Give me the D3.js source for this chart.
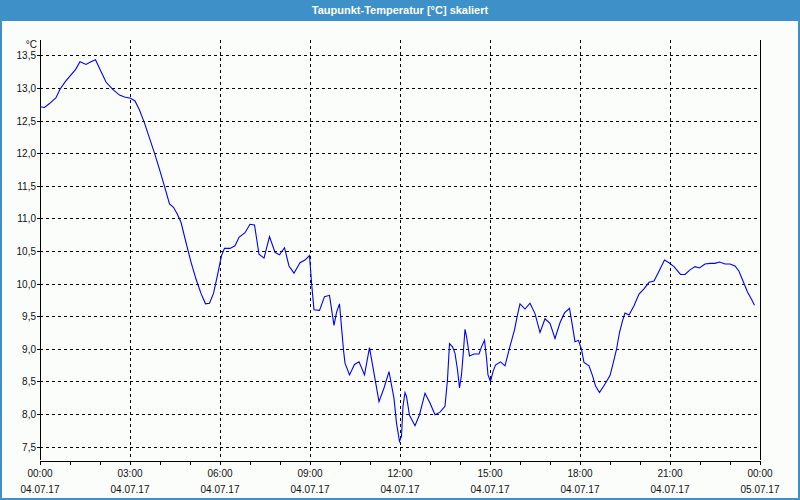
<!DOCTYPE html>
<html>
<head>
<meta charset="utf-8">
<script src="https://cdn.jsdelivr.net/npm/d3@7"></script>
<style>
  html, body { margin: 0; padding: 0; background: #fff; }
  svg { display: block; }
  text { font-family: "Liberation Sans", Arial, sans-serif; }
</style>
</head>
<body>
<svg id="chart" width="800" height="500"></svg>
<script>
// ---- data ----
const title = "Taupunkt-Temperatur [°C] skaliert";
const unitLabel = "°C";
const times = [
  "00:00","00:09","00:19","00:32","00:40","00:51","01:02","01:11","01:20","01:32","01:42","01:51",
  "02:02","02:12","02:25","02:39","02:49","03:01","03:10","03:19","03:29","03:39","03:49","03:59",
  "04:09","04:19","04:27","04:35","04:42","04:52","05:02","05:12","05:22","05:31","05:39","05:47","05:55",
  "06:03","06:09","06:20","06:30","06:38","06:50","07:00","07:09","07:18","07:28","07:39","07:50","07:59",
  "08:09","08:18","08:28","08:40","08:50","08:59","09:03","09:08","09:19","09:29","09:39","09:48","09:53","09:59",
  "10:07","10:10","10:19","10:29","10:38","10:49","10:59","11:18","11:28","11:38","11:48",
  "11:53","11:59","12:03","12:06","12:10","12:13","12:19","12:30","12:39","12:50","13:00","13:10","13:20","13:30",
  "13:35","13:39","13:45","13:50","13:55","13:59","14:03","14:07","14:10","14:13","14:19","14:28","14:38","14:43",
  "14:49","14:53","14:56","15:01","15:06","15:11","15:21","15:30","15:39","15:49","15:55","16:00","16:10","16:20",
  "16:30","16:40","16:50","17:00","17:10","17:20","17:29","17:39","17:43","17:50","17:57",
  "18:03","18:08","18:18","18:25","18:31","18:39","18:50","19:00","19:06","19:13","19:19","19:25","19:30","19:38",
  "19:48","19:58","20:08","20:18","20:28","20:38","20:49","20:58","21:08","21:21","21:30","21:40","21:50","21:59",
  "22:10","22:20","22:30","22:39","22:50","23:00","23:10","23:18","23:27","23:35","23:43","23:49"
];
const values = [
  12.71,12.70,12.76,12.85,12.98,13.10,13.20,13.28,13.40,13.36,13.40,13.43,
  13.25,13.09,12.98,12.89,12.86,12.84,12.80,12.66,12.46,12.23,12.00,11.75,
  11.49,11.22,11.17,11.06,10.94,10.63,10.33,10.07,9.85,9.69,9.70,9.85,10.13,
  10.43,10.54,10.54,10.58,10.71,10.78,10.91,10.90,10.45,10.39,10.72,10.48,10.44,
  10.55,10.27,10.16,10.32,10.36,10.43,10.02,9.60,9.59,9.80,9.82,9.36,9.56,9.69,
  8.98,8.78,8.60,8.76,8.80,8.60,9.02,8.19,8.40,8.65,8.24,
  7.86,7.58,7.66,8.12,8.33,8.27,7.98,7.82,7.99,8.32,8.17,7.99,8.03,8.12,
  8.53,9.08,9.03,8.93,8.68,8.40,8.60,8.98,9.30,9.19,8.89,8.92,8.92,9.03,
  9.13,8.86,8.60,8.50,8.65,8.75,8.80,8.74,9.01,9.29,9.52,9.69,9.61,9.70,
  9.54,9.25,9.46,9.39,9.16,9.40,9.55,9.62,9.44,9.11,9.13,
  8.99,8.79,8.74,8.59,8.43,8.33,8.46,8.59,8.77,8.99,9.25,9.43,9.55,9.52,
  9.66,9.84,9.92,10.02,10.04,10.19,10.36,10.32,10.26,10.14,10.14,10.21,10.26,10.24,
  10.30,10.31,10.31,10.33,10.30,10.30,10.27,10.19,10.02,9.87,9.76,9.67
];
const yTicks = [7.5, 8.0, 8.5, 9.0, 9.5, 10.0, 10.5, 11.0, 11.5, 12.0, 12.5, 13.0, 13.5];
const xTickTimes = ["2017-07-04 00:00","2017-07-04 03:00","2017-07-04 06:00","2017-07-04 09:00",
  "2017-07-04 12:00","2017-07-04 15:00","2017-07-04 18:00","2017-07-04 21:00","2017-07-05 00:00"];
const dayDate = "2017-07-04";

// ---- build ----
const parseFull = d3.timeParse("%Y-%m-%d %H:%M");
const data = times.map((t, i) => ({ t: parseFull(dayDate + " " + t), v: values[i] }));
const xTicks = xTickTimes.map(parseFull);

const svg = d3.select("#chart");
const W = 800, H = 500;
const plot = { left: 40, right: 760, top: 40, bottom: 460 };

// frame
svg.append("rect").attr("x", 0).attr("y", 0).attr("width", W).attr("height", H).attr("fill", "#3d91c8");
svg.append("rect").attr("x", 2).attr("y", 21).attr("width", W - 4).attr("height", H - 23).attr("fill", "#fbfdfb");
svg.append("text").attr("x", W / 2).attr("y", 14).attr("text-anchor", "middle")
  .attr("fill", "#ffffff").attr("font-size", 11).attr("font-weight", "bold").text(title);

const x = d3.scaleTime()
  .domain([parseFull("2017-07-04 00:00"), parseFull("2017-07-05 00:00")])
  .range([plot.left, plot.right]);
const y = d3.scaleLinear().domain([7.296, 13.734]).range([plot.bottom, plot.top]);

const g = svg.append("g");

// horizontal grid
g.selectAll(".hgrid").data(yTicks).join("line")
  .attr("x1", plot.left).attr("x2", plot.right)
  .attr("y1", d => Math.round(y(d)) + 0.5).attr("y2", d => Math.round(y(d)) + 0.5)
  .attr("stroke", "#000").attr("stroke-dasharray", "3,3").attr("shape-rendering", "crispEdges");
// y tick marks
g.selectAll(".ytick").data(yTicks).join("line")
  .attr("x1", plot.left - 3).attr("x2", plot.left)
  .attr("y1", d => Math.round(y(d)) + 0.5).attr("y2", d => Math.round(y(d)) + 0.5)
  .attr("stroke", "#000").attr("shape-rendering", "crispEdges");
// y labels
const fmtY = v => d3.format(".1f")(v).replace(".", ",");
g.selectAll(".ylab").data(yTicks).join("text")
  .attr("x", plot.left - 4).attr("y", d => Math.round(y(d)) + 4)
  .attr("text-anchor", "end").attr("font-size", 10).attr("fill", "#111").text(fmtY);
g.append("text").attr("x", plot.left - 3).attr("y", 48).attr("text-anchor", "end")
  .attr("font-size", 10).attr("fill", "#111").text(unitLabel);

// vertical grid (inner)
g.selectAll(".vgrid").data(xTicks.slice(1, -1)).join("line")
  .attr("x1", d => Math.round(x(d)) + 0.5).attr("x2", d => Math.round(x(d)) + 0.5)
  .attr("y1", plot.top).attr("y2", plot.bottom)
  .attr("stroke", "#000").attr("stroke-dasharray", "3,3").attr("shape-rendering", "crispEdges");

// axes lines
const axisG = svg.append("g").attr("transform", `translate(0,${plot.bottom + 0.5})`);
axisG.call(d3.axisBottom(x).ticks(d3.timeHour.every(1)).tickSize(4).tickSizeOuter(0).tickFormat(""));
axisG.select(".domain").attr("stroke", "#000").attr("shape-rendering", "crispEdges");
axisG.selectAll(".tick line").attr("stroke", "#000").attr("shape-rendering", "crispEdges");

svg.append("line").attr("x1", plot.left + 0.5).attr("x2", plot.left + 0.5)
  .attr("y1", plot.top).attr("y2", plot.bottom).attr("stroke", "#000").attr("shape-rendering", "crispEdges");
svg.append("line").attr("x1", plot.right + 0.5).attr("x2", plot.right + 0.5)
  .attr("y1", plot.top).attr("y2", plot.bottom).attr("stroke", "#000").attr("shape-rendering", "crispEdges");

// x labels
const fmtT = d3.timeFormat("%H:%M"), fmtD = d3.timeFormat("%d.%m.%y");
const xl = svg.selectAll(".xlab").data(xTicks).join("g");
xl.append("text").attr("x", d => x(d)).attr("y", 477).attr("text-anchor", "middle")
  .attr("font-size", 10).attr("fill", "#111").text(fmtT);
xl.append("text").attr("x", d => x(d)).attr("y", 493).attr("text-anchor", "middle")
  .attr("font-size", 10).attr("fill", "#111").text(fmtD);

// data line
const line = d3.line().x(d => x(d.t)).y(d => y(d.v));
svg.append("path").datum(data).attr("d", line)
  .attr("fill", "none").attr("stroke", "#0000ff").attr("stroke-width", 1.1);
</script>
</body>
</html>
